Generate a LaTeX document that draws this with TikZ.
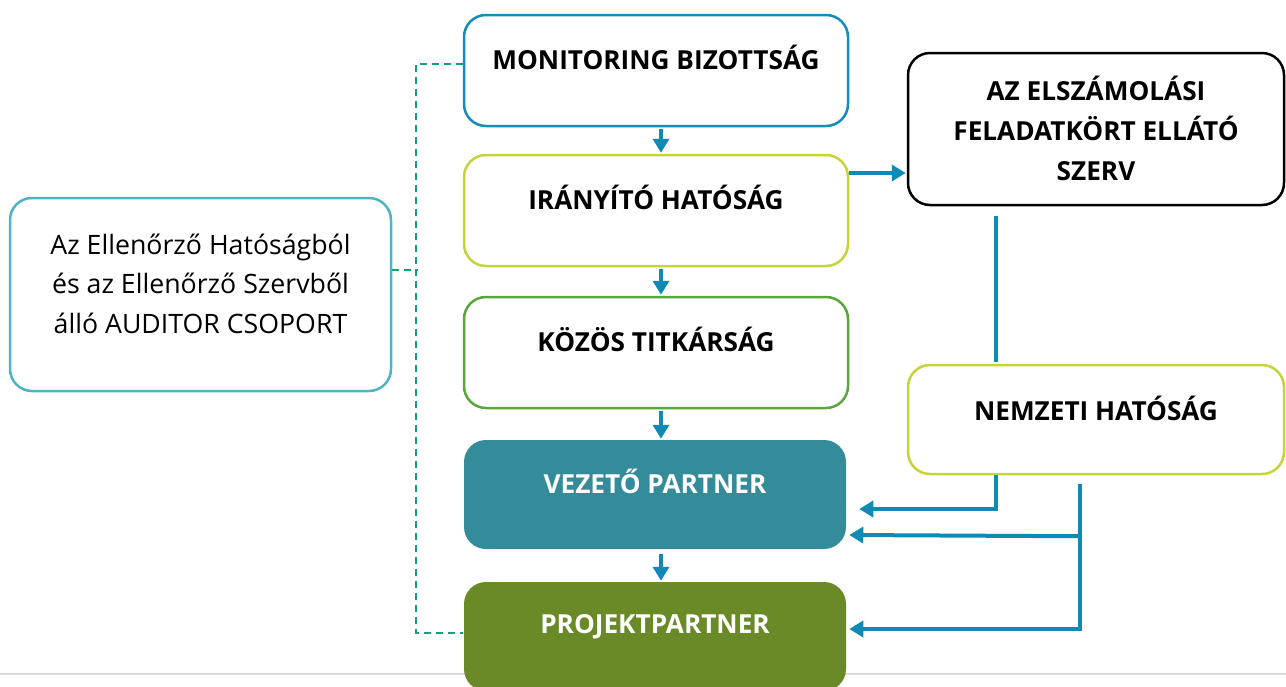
\documentclass[tikz,border=0pt]{standalone}
\usepackage{fontspec}
\setmainfont{Open Sans}
\usetikzlibrary{arrows.meta,calc}
\definecolor{cMon}{RGB}{22,140,186}
\definecolor{cYel}{RGB}{197,212,56}
\definecolor{cGrn}{RGB}{88,166,60}
\definecolor{cTeal}{RGB}{52,139,154}
\definecolor{cOlive}{RGB}{106,138,40}
\definecolor{cAud}{RGB}{78,180,196}
\definecolor{cDash}{RGB}{23,158,124}
\definecolor{cArr}{RGB}{14,138,181}
\definecolor{cGray}{RGB}{217,217,217}
\begin{document}
\begin{tikzpicture}[x=1pt,y=-1pt,
  box/.style={draw, line width=2.5pt, rounded corners=22pt, fill=white, inner sep=0pt},
  lbl/.style={font=\fontsize{26.2}{40}\selectfont\bfseries, align=center, inner sep=0pt},
  arr/.style={draw=cArr, line width=4pt, -{Triangle[length=14pt,width=16pt]}},
  conn/.style={draw=cArr, line width=4pt},
  dashline/.style={draw=cDash, line width=2pt, dash pattern=on 7pt off 5pt},
  grayline/.style={draw=cGray, line width=2pt}]
\useasboundingbox (0,0) rectangle (1286,686);
\draw[grayline] (0,674) -- (1286,674);
% centre column
\node[box, draw=cMon, minimum width=384pt, minimum height=111pt] (mon) at (656,70.5) {};
\node[lbl] (monl) at ($(mon.center)+(0,-13)$) {MONITORING BIZOTTSÁG};
\node[box, draw=cYel, minimum width=384pt, minimum height=111pt] (ira) at (656,210.5) {};
\node[lbl] (iral) at ($(ira.center)+(0,-13.5)$) {IRÁNYÍTÓ HATÓSÁG};
\node[box, draw=cGrn, minimum width=384pt, minimum height=111pt] (koz) at (656,352.5) {};
\node[lbl] (kozl) at ($(koz.center)+(0,-13.5)$) {KÖZÖS TITKÁRSÁG};
\node[box, draw=none, fill=cTeal, minimum width=382pt, minimum height=109pt] (vez) at (655,494.5) {};
\node[lbl, text=white] (vezl) at ($(vez.center)+(0,-13)$) {VEZETŐ PARTNER};
\node[box, draw=none, fill=cOlive, minimum width=382pt, minimum height=109pt] (proj) at (655,636.5) {};
\node[lbl, text=white] (projl) at ($(proj.center)+(0,-9.5)$) {PROJEKTPARTNER};
% left
\node[box, draw=cAud, minimum width=381pt, minimum height=193pt] (aud) at (200.5,294.5) {};
\node[lbl, font=\fontsize{26.7}{39.5}\selectfont] (audl) at ($(aud.center)+(0,-11)$) {Az Ellenőrző Hatóságból\\és az Ellenőrző Szervből\\álló AUDITOR CSOPORT};
% right
\node[box, draw=black, minimum width=376pt, minimum height=152pt] (elsz) at (1096,129) {};
\node[lbl] (elszl) at ($(elsz.center)+(0,-1)$) {AZ ELSZÁMOLÁSI\\FELADATKÖRT ELLÁTÓ\\SZERV};
\node[box, draw=cYel, minimum width=376pt, minimum height=109pt] (nem) at (1096,419.5) {};
\node[lbl] (neml) at ($(nem.center)+(0,-11)$) {NEMZETI HATÓSÁG};
% vertical arrows centre
\draw[arr] ($(mon.south)+(5,2)$) -- ($(ira.north)+(5,-1)$);
\draw[arr] ($(ira.south)+(5,2)$) -- ($(koz.north)+(5,-1)$);
\draw[arr] ($(koz.south)+(5,2)$) -- ($(vez.north)+(6,0)$);
\draw[arr] ($(vez.south)+(6,4)$) -- ($(proj.north)+(6,0)$);
% to elszamolasi
\draw[arr] ($(ira.east)+(0,-37.5)$) -- ($(elsz.west)+(-1,44)$);
% right connectors
\draw[conn] ($(elsz.south)+(-100,10)$) -- ($(nem.north)+(-100,-2)$);
\draw[arr] ($(nem.south)+(-100,0)$) |- ($(vez.east)+(12,14.5)$);
\draw[arr] ($(nem.south)+(-16,9)$) |- ($(proj.east)+(2,-7.5)$);
\draw[arr] ($(nem.south)+(-16,61)$) -- ($(vez.east)+(2,40.5)$);
% dashed
\draw[dashline] ($(mon.west)+(0,-6.5)$) -- ++(-47,0) |- ($(proj.west)+(0,-3.5)$);
\draw[dashline] ($(aud.east)+(0,-24.5)$) -- ++(26,0);
\end{tikzpicture}
\end{document}
